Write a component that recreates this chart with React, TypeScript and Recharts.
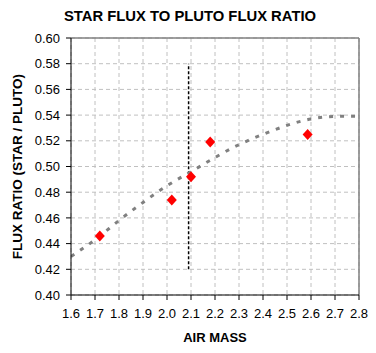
import React from "react";
import {
  ComposedChart,
  Line,
  Scatter,
  XAxis,
  YAxis,
  CartesianGrid,
  ReferenceLine,
  Label,
} from "recharts";

// measured ratios (red diamonds)
const airMass = [1.72, 2.02, 2.1, 2.18, 2.586];
const fluxRatio = [0.446, 0.474, 0.492, 0.519, 0.525];

// fitted trend (grey dotted curve)
const trendAirMass = [1.6, 1.7, 1.8, 1.9, 2.0, 2.1, 2.2, 2.3, 2.4, 2.5, 2.6, 2.7, 2.8];
const trendRatio = [0.43, 0.443, 0.458, 0.472, 0.485, 0.496, 0.507, 0.517, 0.525, 0.532, 0.537, 0.539, 0.539];

const xTicks = [1.6, 1.7, 1.8, 1.9, 2.0, 2.1, 2.2, 2.3, 2.4, 2.5, 2.6, 2.7, 2.8];
const yTicks = [0.4, 0.42, 0.44, 0.46, 0.48, 0.5, 0.52, 0.54, 0.56, 0.58, 0.6];

// marker line at air mass 2.09
const markerX = 2.09;
const markerYRange = [0.42, 0.58];

const points = airMass.map((x, i) => ({ x, y: fluxRatio[i] }));
const trend = trendAirMass.map((x, i) => ({ x, y: trendRatio[i] }));

const font = "'Liberation Sans', Arial, sans-serif";

const Diamond = (props: any) => {
  const { cx, cy } = props;
  if (cx == null || cy == null) return null;
  return (
    <polygon
      points={`${cx},${cy - 5.5} ${cx + 5},${cy} ${cx},${cy + 5.5} ${cx - 5},${cy}`}
      fill="#ff0000"
    />
  );
};

export default function App() {
  return (
    <div style={{ position: "fixed", left: 0, top: 0, width: 376, height: 353, background: "#fff" }}>
      <div
        style={{
          position: "absolute",
          left: 0,
          width: 376,
          top: 8,
          textAlign: "center",
          fontFamily: font,
          fontWeight: "bold",
          fontSize: 14.8,
          paddingLeft: 2,
        }}
      >
        STAR FLUX TO PLUTO FLUX RATIO
      </div>
      <ComposedChart
        width={376}
        height={353}
        margin={{ top: 38, right: 17, left: 0, bottom: 28 }}
        style={{ fontFamily: font }}
      >
        <CartesianGrid stroke="#c0c0c0" strokeDasharray="4 3" />
        <XAxis
          type="number"
          dataKey="x"
          domain={[1.6, 2.8]}
          ticks={xTicks}
          tickFormatter={(v) => Number(v).toFixed(1)}
          interval={0}
          height={30}
          tickSize={5}
          tickMargin={9}
          stroke="#000"
          tick={{ fill: "#000", fontSize: 13 }}
          allowDataOverflow
        >
          <Label
            value="AIR MASS"
            position="bottom"
            offset={8}
            style={{ fontWeight: "bold", fontSize: 13, fill: "#000" }}
          />
        </XAxis>
        <YAxis
          type="number"
          dataKey="y"
          domain={[0.4, 0.6]}
          ticks={yTicks}
          tickFormatter={(v) => Number(v).toFixed(2)}
          interval={0}
          width={71}
          tickSize={5}
          tickMargin={6}
          stroke="#000"
          tick={{ fill: "#000", fontSize: 13 }}
          allowDataOverflow
        >
          <Label
            value="FLUX RATIO (STAR / PLUTO)"
            angle={-90}
            position="insideLeft"
            offset={17}
            style={{ fontWeight: "bold", fontSize: 13.5, fill: "#000", textAnchor: "middle" }}
          />
        </YAxis>
        <ReferenceLine y={0.6} stroke="#808080" strokeWidth={1.5} />
        <ReferenceLine x={2.8} stroke="#808080" strokeWidth={1.5} />
        <ReferenceLine
          segment={[
            { x: markerX, y: markerYRange[0] },
            { x: markerX, y: markerYRange[1] },
          ]}
          stroke="#000"
          strokeWidth={1.5}
          strokeDasharray="3 2"
        />
        <Line
          data={trend}
          dataKey="y"
          type="natural"
          stroke="#808080"
          strokeWidth={3}
          strokeDasharray="4 7"
          dot={false}
          activeDot={false}
          isAnimationActive={false}
        />
        <Scatter data={points} dataKey="y" shape={<Diamond />} isAnimationActive={false} />
      </ComposedChart>
    </div>
  );
}
